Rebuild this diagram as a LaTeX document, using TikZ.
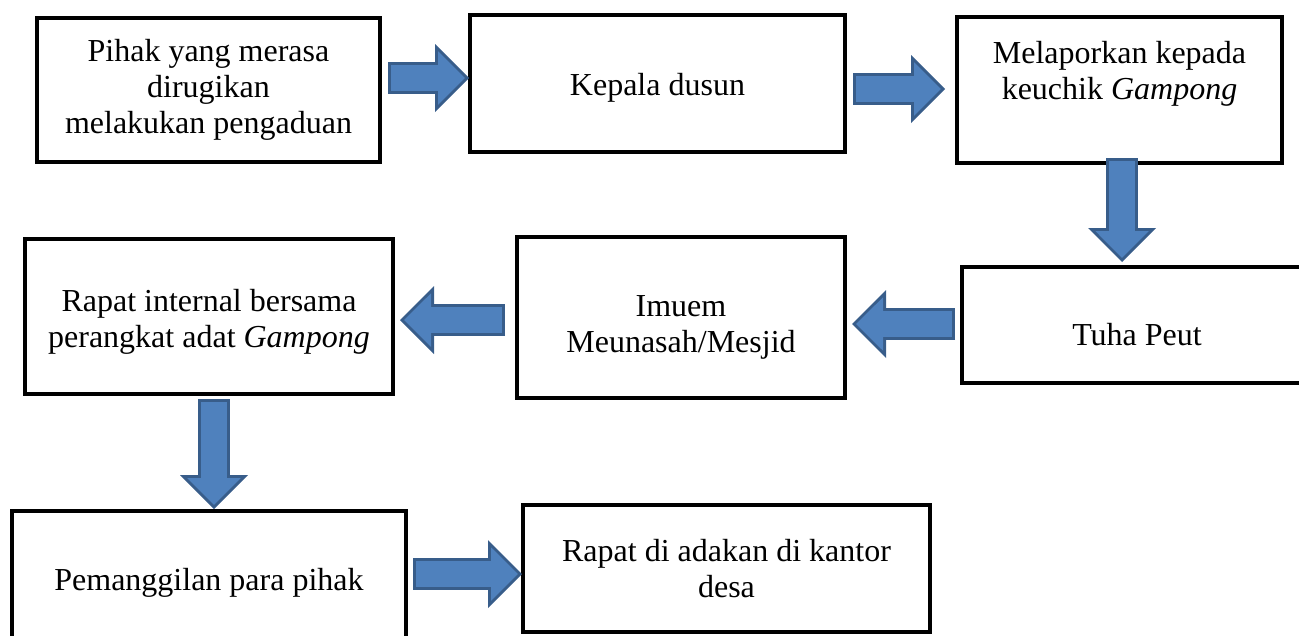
\documentclass[tikz,border=0pt]{standalone}
\usepackage{fontspec}
\setmainfont{Liberation Serif}
\usetikzlibrary{arrows.meta}
\definecolor{arrfill}{HTML}{4F81BD}
\definecolor{arrline}{HTML}{385D8A}

\begin{document}
\begin{tikzpicture}[x=1pt,y=-1pt,
  box/.style={rectangle, draw, line width=4pt, align=center, inner sep=0pt, font=\fontsize{32}{36}\selectfont},
  fat/.style={arrfill, line width=26pt, -{Triangle[width=53.5pt,length=26.8pt,line width=0pt]}, shorten <=3pt, shorten >=4.2pt,
    preaction={draw=arrline, line width=32pt, -{Triangle[width=68pt,length=34pt,line width=0pt]}, shorten <=0pt, shorten >=0pt}}]
\useasboundingbox (0,0) rectangle (1299,635);
\node [box, minimum width=343pt, minimum height=144pt] (pihak) at (208.5,90) {Pihak yang merasa\\dirugikan\\melakukan pengaduan};
\node [box, minimum width=375pt, minimum height=137pt, text height=30pt] (kadus) at (657.5,83.5) {Kepala dusun};
\node [box, minimum width=325pt, minimum height=146pt, text depth=40pt] (keuchik) at (1119.5,90) {Melaporkan kepada\\keuchik \textit{Gampong}};
\node [box, minimum width=350pt, minimum height=116pt, text height=42pt] (tuha) at (1137,325) {Tuha Peut};
\node [box, minimum width=328pt, minimum height=161pt, text height=76pt] (imuem) at (681,317.5) {Imuem\\Meunasah/Mesjid};
\node [box, minimum width=368pt, minimum height=155pt, text height=68pt] (rapat) at (209,316.5) {Rapat internal bersama\\perangkat adat \textit{Gampong}};
\node [box, minimum width=394pt, minimum height=144pt] (panggil) at (209,583) {Pemanggilan para pihak};
\node [box, minimum width=407pt, minimum height=127pt] (kantor) at (726.5,568.5) {Rapat di adakan di kantor\\desa};
\draw [fat] ([xshift=6pt,yshift=12pt]pihak.east) -- ([xshift=1pt,yshift=12pt]pihak.east -| kadus.west);
\draw [fat] ([xshift=6pt,yshift=-5.5pt]kadus.east) -- ([xshift=-10pt,yshift=-5.5pt]kadus.east -| keuchik.west);
\draw [fat] ([xshift=2.5pt,yshift=7pt]keuchik.south) -- ([xshift=2.5pt,yshift=3pt]keuchik.south |- tuha.north);
\draw [fat] ([xshift=-5pt,yshift=1pt]tuha.west) -- ([xshift=5pt,yshift=1pt]tuha.west -| imuem.east);
\draw [fat] ([xshift=-10pt,yshift=-2.5pt]imuem.west) -- ([xshift=5pt,yshift=-2.5pt]imuem.west -| rapat.east);
\draw [fat] ([xshift=5pt,yshift=-3pt]rapat.south) -- ([xshift=5pt]rapat.south |- panggil.north);
\draw [fat] ([xshift=5pt,yshift=9pt]panggil.east) -- ([xshift=1pt,yshift=9pt]panggil.east -| kantor.west);
\end{tikzpicture}
\end{document}
